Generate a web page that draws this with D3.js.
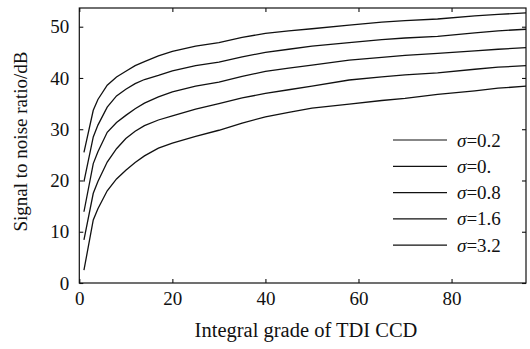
<!DOCTYPE html>
<html>
<head>
<meta charset="UTF-8">
<title>SNR vs integral grade</title>
<style>
  body { margin: 0; background: #fff; }
  text { font-family: "Liberation Serif", "Times New Roman", serif; fill: #111; }
  .curve { fill: none; stroke: #111; stroke-width: 1.3; }
  .frame { fill: none; stroke: #111; stroke-width: 1.2; }
</style>
</head>
<body>
<div id="chart"></div>
<script src="https://cdnjs.cloudflare.com/ajax/libs/d3/7.8.5/d3.min.js"></script>
<script>
// integral grades (x) where the curves were read
const grades = [1, 3, 4, 6, 8, 10, 12, 14, 17, 20, 25, 30, 35, 40, 45, 50, 58, 65, 70, 77, 85, 90, 96];

// SNR in dB, one array per sigma
const snr02 = [25.5, 33.7, 35.8, 38.6, 40.2, 41.3, 42.4, 43.2, 44.3, 45.2, 46.2, 46.9, 47.9, 48.7, 49.2, 49.6, 50.3, 50.9, 51.2, 51.5, 52.1, 52.4, 52.7];
const snr04 = [19.8, 28.5, 30.8, 34.3, 36.5, 37.8, 38.9, 39.7, 40.5, 41.4, 42.4, 43.1, 44.1, 45.0, 45.6, 46.2, 46.9, 47.5, 47.8, 48.1, 48.8, 49.2, 49.5];
const snr08 = [13.9, 23.3, 25.6, 29.4, 31.3, 32.7, 34.0, 35.1, 36.3, 37.3, 38.4, 39.2, 40.3, 41.3, 41.9, 42.5, 43.5, 44.0, 44.4, 44.8, 45.3, 45.6, 45.9];
const snr16 = [8.4, 17.5, 19.8, 23.6, 26.2, 28.2, 29.6, 30.7, 31.8, 32.6, 33.9, 35.0, 36.1, 37.0, 37.7, 38.4, 39.6, 40.2, 40.6, 41.0, 41.7, 42.1, 42.4];
const snr32 = [2.5, 12.3, 14.5, 18.0, 20.3, 22.0, 23.5, 24.8, 26.3, 27.3, 28.6, 29.8, 31.2, 32.4, 33.3, 34.1, 34.9, 35.6, 36.0, 36.8, 37.5, 38.0, 38.4];

const legendLabels = ["0.2", "0.", "0.8", "1.6", "3.2"];
const xTicks = [0, 20, 40, 60, 80];
const yTicks = [0, 10, 20, 30, 40, 50];

const width = 530, height = 349;
const mLeft = 79.3, mRight = 526, mTop = 8, mBottom = 283;

const svg = d3.select("#chart").append("svg")
    .attr("width", width)
    .attr("height", height);

const x = d3.scaleLinear().domain([0, 96]).range([mLeft, mRight]);
const y = d3.scaleLinear().domain([0, 53.65]).range([mBottom, mTop]);

// frame
svg.append("rect").attr("class", "frame")
    .attr("x", mLeft).attr("y", mTop)
    .attr("width", mRight - mLeft).attr("height", mBottom - mTop);

// axes with inward ticks, mirrored on top/right
const fontSize = 19;
const gx = svg.append("g").attr("transform", `translate(0,${mBottom})`)
    .call(d3.axisBottom(x).tickValues(xTicks).tickSize(-4).tickPadding(9));
const gxTop = svg.append("g").attr("transform", `translate(0,${mTop})`)
    .call(d3.axisTop(x).tickValues(xTicks).tickSize(-4).tickFormat(""));
const gy = svg.append("g").attr("transform", `translate(${mLeft},0)`)
    .call(d3.axisLeft(y).tickValues(yTicks).tickSize(-4).tickPadding(10));
const gyRight = svg.append("g").attr("transform", `translate(${mRight},0)`)
    .call(d3.axisRight(y).tickValues(yTicks).tickSize(-4).tickFormat(""));

[gx, gxTop, gy, gyRight].forEach(g => {
    g.select(".domain").remove();
    g.selectAll(".tick line").attr("stroke", "#111").attr("stroke-width", 1.1);
    g.selectAll("text")
        .style("font-family", '"Liberation Serif", serif')
        .style("font-size", fontSize + "px")
        .attr("fill", "#111");
});

// curves
const series = [snr02, snr04, snr08, snr16, snr32];
const line = d3.line()
    .x((d, i) => x(grades[i]))
    .y(d => y(d));

svg.append("g")
  .selectAll("path")
  .data(series)
  .join("path")
    .attr("class", "curve")
    .attr("d", line);

// legend
const leg = svg.append("g");
legendLabels.forEach((lab, i) => {
    const ly = 140 + i * 26.3;
    leg.append("line")
        .attr("x1", 393).attr("x2", 447)
        .attr("y1", ly).attr("y2", ly)
        .attr("stroke", "#111").attr("stroke-width", 1.2);
    const t = leg.append("text")
        .attr("x", 457).attr("y", ly + 6.5)
        .style("font-size", fontSize + "px");
    t.append("tspan").style("font-style", "italic").text("σ");
    t.append("tspan").text("=" + lab);
});

// axis titles
svg.append("text")
    .attr("x", 306)
    .attr("y", 337)
    .attr("text-anchor", "middle")
    .style("font-size", "20.5px")
    .text("Integral grade of TDI CCD");

svg.append("text")
    .attr("transform", `translate(27,${(mTop + mBottom) / 2 - 4}) rotate(-90)`)
    .attr("text-anchor", "middle")
    .style("font-size", fontSize + "px")
    .text("Signal to noise ratio/dB");
</script>
</body>
</html>
